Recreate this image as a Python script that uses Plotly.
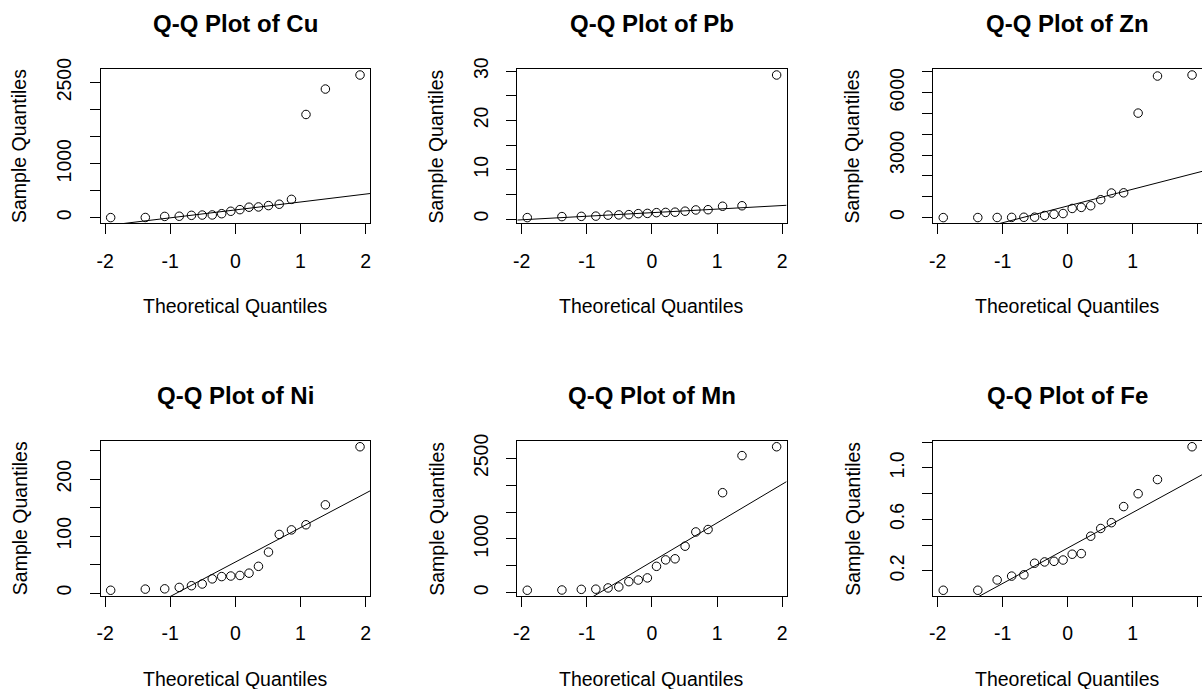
import numpy as np
import plotly.graph_objects as go

# Normal theoretical quantiles for n = 18 (ppoints, a = 0.5)
theoretical = [-1.915, -1.383, -1.085, -0.862, -0.674, -0.509, -0.355, -0.210, -0.070,
               0.070, 0.210, 0.355, 0.509, 0.674, 0.862, 1.085, 1.383, 1.915]

# Sorted sample values per element
cu = [3, 5, 25, 28, 45, 50, 52, 75, 120, 150, 195, 200, 225, 250, 340, 1910, 2380, 2640]
pb = [0.3, 0.5, 0.55, 0.6, 0.8, 0.85, 0.9, 1.1, 1.15, 1.3, 1.35, 1.4, 1.6, 1.85, 1.9, 2.6, 2.7, 29.2]
zn = [0, 2, 5, 10, 15, 20, 100, 160, 195, 440, 490, 570, 860, 1180, 1190, 5020, 6800, 6850]
ni = [5, 7, 7.5, 10, 13, 16, 25, 29, 30, 31, 35, 47, 72, 103, 111, 120, 155, 257]
mn = [45, 50, 62, 65, 88, 107, 205, 235, 275, 490, 610, 630, 865, 1130, 1175, 1860, 2550, 2715]
fe = [0.05, 0.05, 0.13, 0.16, 0.17, 0.26, 0.27, 0.275, 0.285, 0.33, 0.335, 0.47, 0.53, 0.575,
      0.70, 0.80, 0.91, 1.165]

elements = ["Cu", "Pb", "Zn", "Ni", "Mn", "Fe"]
samples = [cu, pb, zn, ni, mn, fe]

x_ticks = [-2, -1, 0, 1, 2]
x_ticklabels = ["-2", "-1", "0", "1", "2"]

y_ticks = [
    [0, 500, 1000, 1500, 2000, 2500],
    [0, 5, 10, 15, 20, 25, 30],
    [0, 1000, 2000, 3000, 4000, 5000, 6000, 7000],
    [0, 50, 100, 150, 200, 250],
    [0, 500, 1000, 1500, 2000, 2500],
    [0.2, 0.4, 0.6, 0.8, 1.0, 1.2],
]
y_ticklabels = [
    ["0", "", "1000", "", "", "2500"],
    ["0", "", "10", "", "20", "", "30"],
    ["0", "", "", "3000", "", "", "6000", ""],
    ["0", "", "100", "", "200", ""],
    ["0", "", "1000", "", "", "2500"],
    ["0.2", "", "0.6", "", "1.0", ""],
]

W, H = 1202, 689
FONT = "Liberation Sans, Arial, sans-serif"

# plot-box geometry in pixels
col_left = [100.7, 517.3, 933.3]
col_right = [370.0, 786.6, 1202.0]
row_top = [69.3, 441.0]
row_bottom = [223.3, 596.0]


def px_x(v):
    return v / W


def px_y(v):
    return 1 - v / H


fig = go.Figure()
annotations = []

x_pad = 0.04 * (theoretical[-1] - theoretical[0])
x_range = [theoretical[0] - x_pad, theoretical[-1] + x_pad]

for i, (name, vals) in enumerate(zip(elements, samples)):
    r, c = divmod(i, 3)
    idx = "" if i == 0 else str(i + 1)
    xa, ya = "x" + idx, "y" + idx

    # reference line through the first and third quartiles
    q1, q3 = np.percentile(vals, [25, 75])
    z1, z3 = -0.6745, 0.6745
    slope = (q3 - q1) / (z3 - z1)
    intercept = q1 - slope * z1
    fig.add_trace(go.Scatter(
        x=x_range, y=[intercept + slope * x for x in x_range],
        mode="lines", line=dict(color="black", width=1),
        xaxis=xa, yaxis=ya, hoverinfo="skip"))

    fig.add_trace(go.Scatter(
        x=theoretical, y=vals, mode="markers",
        marker=dict(symbol="circle-open", size=8.5, color="black",
                    line=dict(width=1, color="black")),
        xaxis=xa, yaxis=ya, cliponaxis=False))

    span = max(vals) - min(vals)
    y_range = [min(vals) - 0.04 * span, max(vals) + 0.04 * span]

    axis_common = dict(
        showgrid=False, zeroline=False, showline=True,
        linecolor="black", linewidth=1, ticks="outside", ticklen=10,
        tickwidth=1, tickcolor="black", automargin=False,
        tickfont=dict(family=FONT, size=19.5, color="black"),
    )
    fig.layout["xaxis" + idx] = dict(
        axis_common, mirror=True,
        domain=[px_x(col_left[c]), min(1.0, px_x(col_right[c]))],
        range=x_range, tickvals=x_ticks, ticktext=x_ticklabels,
        anchor=ya, ticklabelstandoff=10,
    )
    # the rightmost column runs to the page edge, so no right border there
    fig.layout["yaxis" + idx] = dict(
        axis_common, mirror=(c < 2),
        domain=[px_y(row_bottom[r]), px_y(row_top[r])],
        range=y_range, tickvals=y_ticks[i], ticktext=y_ticklabels[i],
        tickangle=-90, anchor=xa, ticklabelstandoff=11,
    )

    cx = (col_left[c] + col_right[c]) / 2
    annotations.append(dict(
        text="<b>Q-Q Plot of %s</b>" % name, x=px_x(cx), y=px_y(row_top[r] - 46),
        xref="paper", yref="paper", showarrow=False, xanchor="center", yanchor="middle",
        font=dict(family=FONT, size=24, color="black")))
    annotations.append(dict(
        text="Theoretical Quantiles", x=px_x(cx), y=px_y(row_bottom[r] + 83),
        xref="paper", yref="paper", showarrow=False, xanchor="center", yanchor="middle",
        font=dict(family=FONT, size=19.5, color="black")))
    annotations.append(dict(
        text="Sample Quantiles", x=px_x(col_left[c] - 81),
        y=px_y((row_top[r] + row_bottom[r]) / 2),
        xref="paper", yref="paper", showarrow=False, xanchor="center", yanchor="middle",
        textangle=-90, font=dict(family=FONT, size=19.5, color="black")))

fig.update_layout(
    width=W, height=H, margin=dict(l=0, r=0, t=0, b=0, autoexpand=False),
    paper_bgcolor="white", plot_bgcolor="white", showlegend=False,
    annotations=annotations,
)

fig.write_html("out.html")
